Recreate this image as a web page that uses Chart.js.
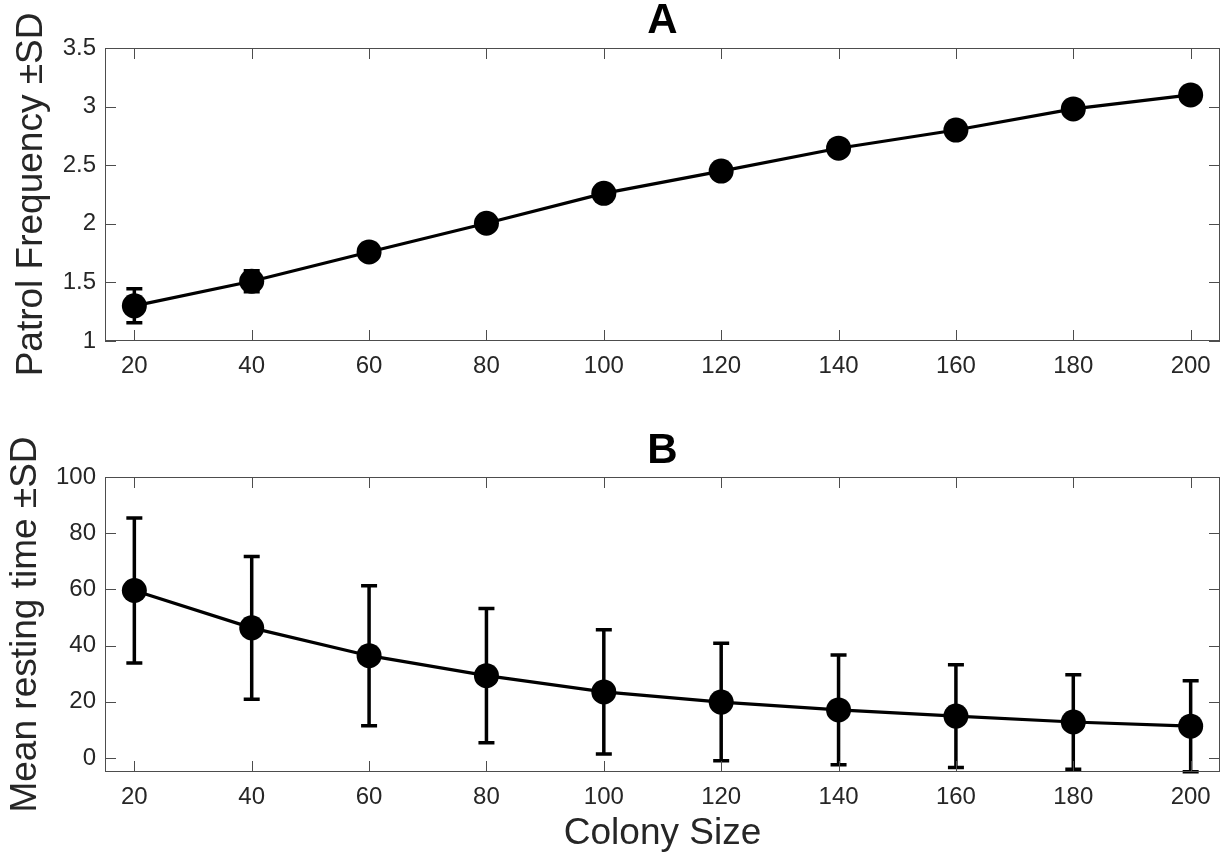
<!DOCTYPE html>
<html>
<head>
<meta charset="utf-8">
<script src="https://cdn.jsdelivr.net/npm/chart.js@4.4.1/dist/chart.umd.min.js"></script>
<style>
body { margin: 0; background: #fff; }
#wrap { position: relative; width: 1222px; height: 858px; }
canvas { position: absolute; left: 0; }
</style>
</head>
<body>
<div id="wrap">
    <canvas id="chartA" width="1222" height="400" style="top:0"></canvas>
    <canvas id="chartB" width="1222" height="458" style="top:400px"></canvas>
</div>
<script>
// Colony sizes on the x axis (shared by both panels)
const colonySize = [20, 40, 60, 80, 100, 120, 140, 160, 180, 200];
const xTicks = [20, 40, 60, 80, 100, 120, 140, 160, 180, 200];

// Panel A: patrol frequency
const patrolMean = [1.30, 1.51, 1.76, 2.005, 2.26, 2.45, 2.645, 2.80, 2.98, 3.10];
const patrolSD = [0.145, 0.09, 0.06, 0.05, 0.05, 0.05, 0.05, 0.05, 0.05, 0.05];
const patrolTicks = [1, 1.5, 2, 2.5, 3, 3.5];
const patrolLabels = ['1', '1.5', '2', '2.5', '3', '3.5'];

// Panel B: mean resting time
const restMean = [59.6, 46.3, 36.4, 29.3, 23.5, 19.9, 17.1, 14.9, 12.8, 11.3];
const restSD = [25.8, 25.4, 24.9, 23.9, 22.1, 20.9, 19.5, 18.3, 16.8, 16.2];
const restTicks = [0, 20, 40, 60, 80, 100];
const restLabels = ['0', '20', '40', '60', '80', '100'];

const fontFamily = "'Liberation Sans', Arial, Helvetica, sans-serif";
const axisColour = '#262626';
const boxColour = '#4d4d4d';
const tickLen = 11;

// Draws the axes box with MATLAB-style inward ticks on all four sides
const boxTicks = {
    id: 'boxTicks',
    afterDraw(chart) {
        const { ctx, chartArea: a, scales: { x, y } } = chart;
        ctx.save();
        ctx.strokeStyle = boxColour;
        ctx.lineWidth = 1;
        ctx.strokeRect(Math.round(a.left) + 0.5, Math.round(a.top) + 0.5,
            Math.round(a.width) - 1, Math.round(a.height) - 1);
        ctx.beginPath();
        x.ticks.forEach(t => {
            const px = Math.round(x.getPixelForValue(t.value)) + 0.5;
            ctx.moveTo(px, a.bottom); ctx.lineTo(px, a.bottom - tickLen);
            ctx.moveTo(px, a.top); ctx.lineTo(px, a.top + tickLen);
        });
        y.ticks.forEach(t => {
            const py = Math.round(y.getPixelForValue(t.value)) + 0.5;
            ctx.moveTo(a.left, py); ctx.lineTo(a.left + tickLen, py);
            ctx.moveTo(a.right, py); ctx.lineTo(a.right - tickLen, py);
        });
        ctx.stroke();
        ctx.restore();
    }
};

// Vertical ±SD bars with caps, drawn under the markers
function makeErrorBars(means, sds) {
    return {
        id: 'errorBars',
        beforeDatasetsDraw(chart) {
            const { ctx, scales: { x, y } } = chart;
            ctx.save();
            ctx.strokeStyle = '#000';
            ctx.lineWidth = 3.5;
            ctx.beginPath();
            colonySize.forEach((c, i) => {
                const px = x.getPixelForValue(c);
                const top = y.getPixelForValue(means[i] + sds[i]);
                const bot = y.getPixelForValue(means[i] - sds[i]);
                ctx.moveTo(px, top); ctx.lineTo(px, bot);
                ctx.moveTo(px - 8, top); ctx.lineTo(px + 8, top);
                ctx.moveTo(px - 8, bot); ctx.lineTo(px + 8, bot);
            });
            ctx.stroke();
            ctx.restore();
        }
    };
}

function makePanel(canvasId, opts) {
    const ctx = document.getElementById(canvasId).getContext('2d');
    return new Chart(ctx, {
        type: 'line',
        data: {
            datasets: [{
                data: colonySize.map((c, i) => ({ x: c, y: opts.means[i] })),
                borderColor: '#000',
                backgroundColor: '#000',
                borderWidth: 3.2,
                pointRadius: 12.5,
                pointBorderWidth: 0,
                pointBackgroundColor: '#000',
                tension: 0,
                clip: false
            }]
        },
        options: {
            responsive: false,
            animation: false,
            // fixed margins; big markers must not push the axes inwards
            layout: { autoPadding: false, padding: { left: 0, right: 2, top: opts.padTop, bottom: 0 } },
            plugins: {
                legend: { display: false },
                tooltip: { enabled: false },
                title: {
                    display: true,
                    text: opts.title,
                    fullSize: false,
                    color: '#000',
                    font: { family: fontFamily, size: 42, weight: 'bold', lineHeight: 1 },
                    padding: { top: 0, bottom: opts.titleGap }
                }
            },
            scales: {
                x: {
                    type: 'linear',
                    min: 15,
                    max: 205,
                    grid: { display: false, drawTicks: false },
                    border: { display: false },
                    afterBuildTicks: s => { s.ticks = xTicks.map(v => ({ value: v })); },
                    afterFit: s => {
                        s.height = opts.xHeight;
                        s.paddingLeft = 0;
                        s.paddingRight = 0;
                    },
                    ticks: {
                        autoSkip: false,
                        maxRotation: 0,
                        padding: 10.5,
                        color: axisColour,
                        font: { family: fontFamily, size: 24 },
                        callback: v => String(v)
                    },
                    title: {
                        display: !!opts.xTitle,
                        text: opts.xTitle || '',
                        color: axisColour,
                        font: { family: fontFamily, size: 37, lineHeight: 1 },
                        padding: { top: 0, bottom: 5.5 }
                    }
                },
                y: {
                    min: opts.yMin,
                    max: opts.yMax,
                    grid: { display: false, drawTicks: false },
                    border: { display: false },
                    afterBuildTicks: s => { s.ticks = opts.yTicks.map(v => ({ value: v })); },
                    afterFit: s => {
                        s.width = 105;
                        s.paddingTop = 0;
                        s.paddingBottom = 0;
                    },
                    ticks: {
                        padding: 9,
                        color: axisColour,
                        font: { family: fontFamily, size: 24 },
                        callback: (v, i) => opts.yLabels[i]
                    },
                    title: {
                        display: true,
                        text: opts.yTitle,
                        color: axisColour,
                        font: { family: fontFamily, size: 37, lineHeight: 1 },
                        padding: { top: opts.yTitlePad, bottom: 0 }
                    }
                }
            }
        },
        plugins: [makeErrorBars(opts.means, opts.sds), boxTicks]
    });
}

makePanel('chartA', {
    title: 'A',
    padTop: 0,
    titleGap: 6,
    means: patrolMean,
    sds: patrolSD,
    yMin: 1,
    yMax: 3.5,
    yTicks: patrolTicks,
    yLabels: patrolLabels,
    yTitle: 'Patrol Frequency ±SD',
    yTitlePad: 13.5,
    xHeight: 59
});

makePanel('chartB', {
    title: 'B',
    padTop: 30,
    titleGap: 5,
    means: restMean,
    sds: restSD,
    yMin: -5,
    yMax: 100,
    yTicks: restTicks,
    yLabels: restLabels,
    yTitle: 'Mean resting time ±SD',
    yTitlePad: 7,
    xHeight: 86,
    xTitle: 'Colony Size'
});
</script>
</body>
</html>
